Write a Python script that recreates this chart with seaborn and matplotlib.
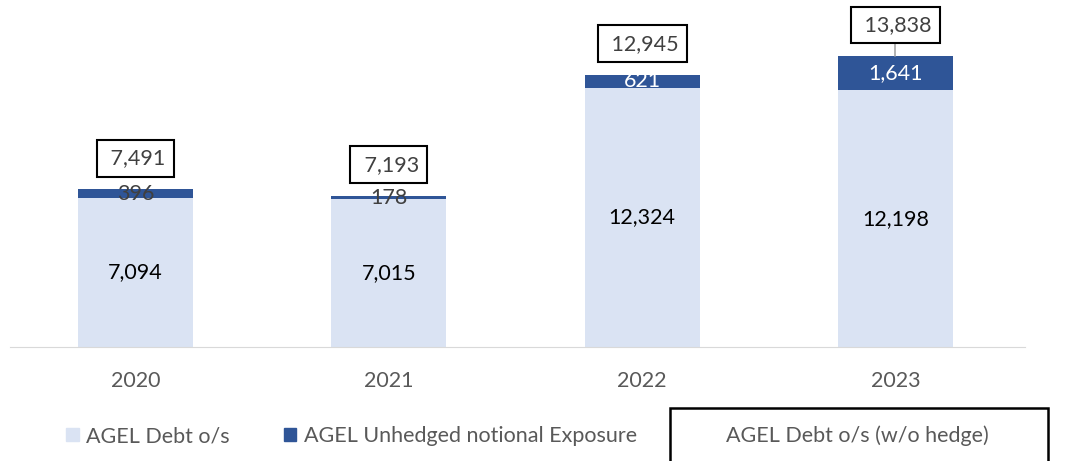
import matplotlib
matplotlib.use("Agg")
import matplotlib.pyplot as plt
import matplotlib.patches as mpatches
import seaborn as sns
import pandas as pd

years = ["2020", "2021", "2022", "2023"]
debt = [7094, 7015, 12324, 12198]
unhedged = [396, 178, 621, 1641]
totals = [7491, 7193, 12945, 13838]

light = "#DAE3F3"
dark = "#2F5597"

sns.set_style("white")
plt.rcParams["font.family"] = ["Lato", "DejaVu Sans"]

df = pd.DataFrame({"year": years, "debt": debt, "unhedged": unhedged, "total": totals})

fig = plt.figure(figsize=(10.76, 4.61), dpi=100)
ax = fig.add_axes([0.0093, 0.2473, 0.943, 0.7527])

sns.barplot(data=df, x="year", y="total", color=dark, width=0.454, saturation=1,
            linewidth=0, edgecolor="none", ax=ax)
sns.barplot(data=df, x="year", y="debt", color=light, width=0.454, saturation=1,
            linewidth=0, edgecolor="none", ax=ax)

ax.set_ylim(0, 16500)
ax.set_xlim(-0.495, 3.51)
ax.set_xlabel("")
ax.set_ylabel("")
ax.set_yticks([])
for s in ["top", "right", "left"]:
    ax.spines[s].set_visible(False)
ax.spines["bottom"].set_color("#D9D9D9")
ax.tick_params(axis="x", length=0, labelsize=15.5, labelcolor="#595959", pad=17)

fs = 15.5
for i, (d, u, t) in enumerate(zip(debt, unhedged, totals)):
    ax.text(i, d / 2, f"{d:,}", ha="center", va="center", fontsize=fs, color="black")
    ucol = "white" if u > 500 else "#404040"
    ax.text(i, d + u / 2, f"{u:,}", ha="center", va="center", fontsize=fs, color=ucol)
    ax.text(i, t + 1480, f" {t:,}", ha="center", va="center", fontsize=fs, color="#404040",
            bbox=dict(boxstyle="square,pad=0.38", fc="white", ec="black", lw=1.5))
    if i == len(years) - 1:
        ax.plot([i, i], [t, t + 700], color="#A6A6A6", lw=1.2)

handles = [mpatches.Patch(color=light, label="AGEL Debt o/s"),
           mpatches.Patch(color=dark, label="AGEL Unhedged notional Exposure")]
fig.legend(handles=handles, loc="center left", bbox_to_anchor=(0.043, 0.054), ncol=2,
           frameon=False, fontsize=fs, handlelength=0.6, handleheight=0.6,
           handletextpad=0.35, columnspacing=2.5, labelcolor="#595959")

fig.patches.append(mpatches.Rectangle((0.6227, -0.02), 0.3513, 0.135, transform=fig.transFigure,
                                      fc="white", ec="black", lw=1.8, clip_on=False))
fig.text(0.797, 0.054, "AGEL Debt o/s (w/o hedge)", ha="center", va="center", fontsize=fs, color="#595959")

fig.savefig("out.png", dpi=100)
